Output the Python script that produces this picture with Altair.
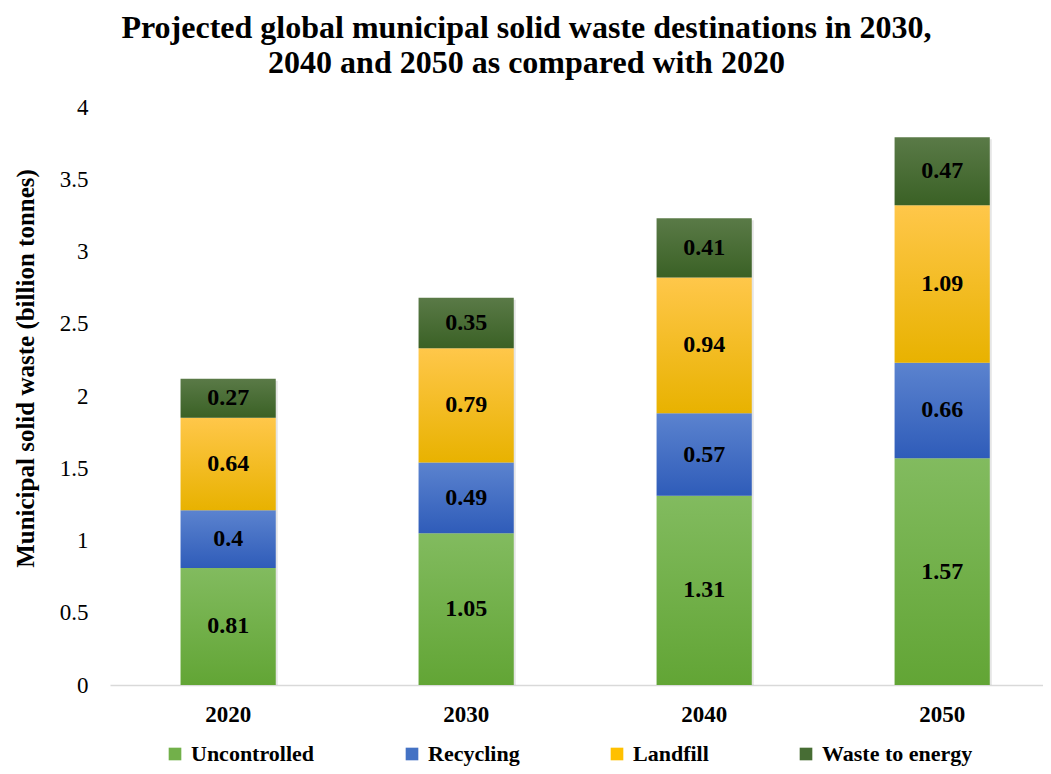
import altair as alt
import pandas as pd

years = ["2020", "2030", "2040", "2050"]
series = ["Uncontrolled", "Recycling", "Landfill", "Waste to energy"]
uncontrolled = [0.81, 1.05, 1.31, 1.57]
recycling = [0.40, 0.49, 0.57, 0.66]
landfill = [0.64, 0.79, 0.94, 1.09]
waste_to_energy = [0.27, 0.35, 0.41, 0.47]

top_colors = ["#82bb5f", "#5b83cf", "#ffc74a", "#5a7a47"]
bottom_colors = ["#62a535", "#2f5cb9", "#e8b200", "#3a6125"]
legend_colors = ["#72b04a", "#4472c4", "#ffc000", "#476d34"]

values = [uncontrolled, recycling, landfill, waste_to_energy]
rows = []
for si, s in enumerate(series):
    for yi, y in enumerate(years):
        rows.append({"year": y, "series": s, "order": si, "value": values[si][yi]})
df = pd.DataFrame(rows)

FONT = "Liberation Serif"

base = alt.Chart(df).transform_stack(
    stack="value", groupby=["year"], as_=["v0", "v1"],
    sort=[alt.SortField("order", order="ascending")]
).transform_calculate(mid="(datum.v0 + datum.v1) / 2")

x_scale = alt.Scale(paddingInner=0.6, paddingOuter=0.26, align=0.57)
x_axis = alt.Axis(labelFont=FONT, labelFontSize=23, labelFontWeight="bold",
                  labelColor="#000", labelPadding=18, ticks=False,
                  domainColor="#d9d9d9", domainWidth=1.5, labelAngle=0)
y_scale = alt.Scale(domain=[0, 4], nice=False)
y_axis = alt.Axis(title="Municipal solid waste (billion tonnes)", values=[0, 0.5, 1, 1.5, 2, 2.5, 3, 3.5, 4],
                  format="~g", labelFont=FONT, labelFontSize=23, labelColor="#000",
                  labelPadding=22, ticks=False, domain=False, grid=False,
                  titleFont=FONT, titleFontSize=25, titleFontWeight="bold", titleColor="#000",
                  titlePadding=21, titleY=261)

shadow = alt.Chart(df).mark_bar(color="#000000", opacity=0.10, xOffset=2, yOffset=2).encode(
    x=alt.X("year:N", title=None, sort=years, scale=x_scale, axis=x_axis),
    y=alt.Y("sum(value):Q", scale=y_scale, axis=y_axis),
)

layers = [shadow]
for si, s in enumerate(series):
    grad = {"gradient": "linear", "x1": 0, "y1": 0, "x2": 0, "y2": 1,
            "stops": [{"offset": 0, "color": top_colors[si]},
                      {"offset": 1, "color": bottom_colors[si]}]}
    layers.append(
        base.transform_filter(alt.datum.series == s).mark_bar(fill=grad).encode(
            x=alt.X("year:N", title=None, sort=years, scale=x_scale, axis=x_axis),
            y=alt.Y("v0:Q", scale=y_scale, axis=y_axis),
            y2="v1:Q",
        )
    )

legend_layer = alt.Chart(df).mark_square(opacity=0, size=1).encode(
    x=alt.X("year:N", title=None, sort=years, scale=x_scale, axis=x_axis),
    y=alt.Y("value:Q", scale=y_scale, axis=y_axis),
    color=alt.Color("series:N", sort=series,
                    scale=alt.Scale(domain=series, range=legend_colors),
                    legend=alt.Legend(title=None, orient="none", direction="horizontal",
                                      legendX=54, legendY=636, columns=4, columnPadding=86,
                                      symbolType="square", symbolSize=160, symbolOpacity=1,
                                      symbolStrokeWidth=0, labelFont=FONT, labelFontSize=22,
                                      labelFontWeight="bold", labelColor="#000", labelOffset=5,
                                      labelLimit=300)),
)

text_layer = base.mark_text(font=FONT, fontSize=24, fontWeight="bold", color="#000").encode(
    x=alt.X("year:N", title=None, sort=years, scale=x_scale, axis=x_axis),
    y=alt.Y("mid:Q", scale=y_scale, axis=y_axis),
    text=alt.Text("value:Q", format=".2~f"),
)

chart = alt.layer(*layers, legend_layer, text_layer).properties(
    width=933, height=578,
    autosize=alt.AutoSizeParams(type="none"),
    padding={"left": 102, "top": 99, "right": 0, "bottom": 81},
    title=alt.TitleParams(
        text=["Projected global municipal solid waste destinations in 2030,",
              "2040 and 2050 as compared with 2020"],
        font=FONT, fontSize=32, fontWeight="bold", color="#000",
        anchor="middle", dx=-50, offset=16, lineHeight=35),
).configure_view(stroke=None)

chart.save("out.html", embed_options={"renderer": "svg", "actions": False})
